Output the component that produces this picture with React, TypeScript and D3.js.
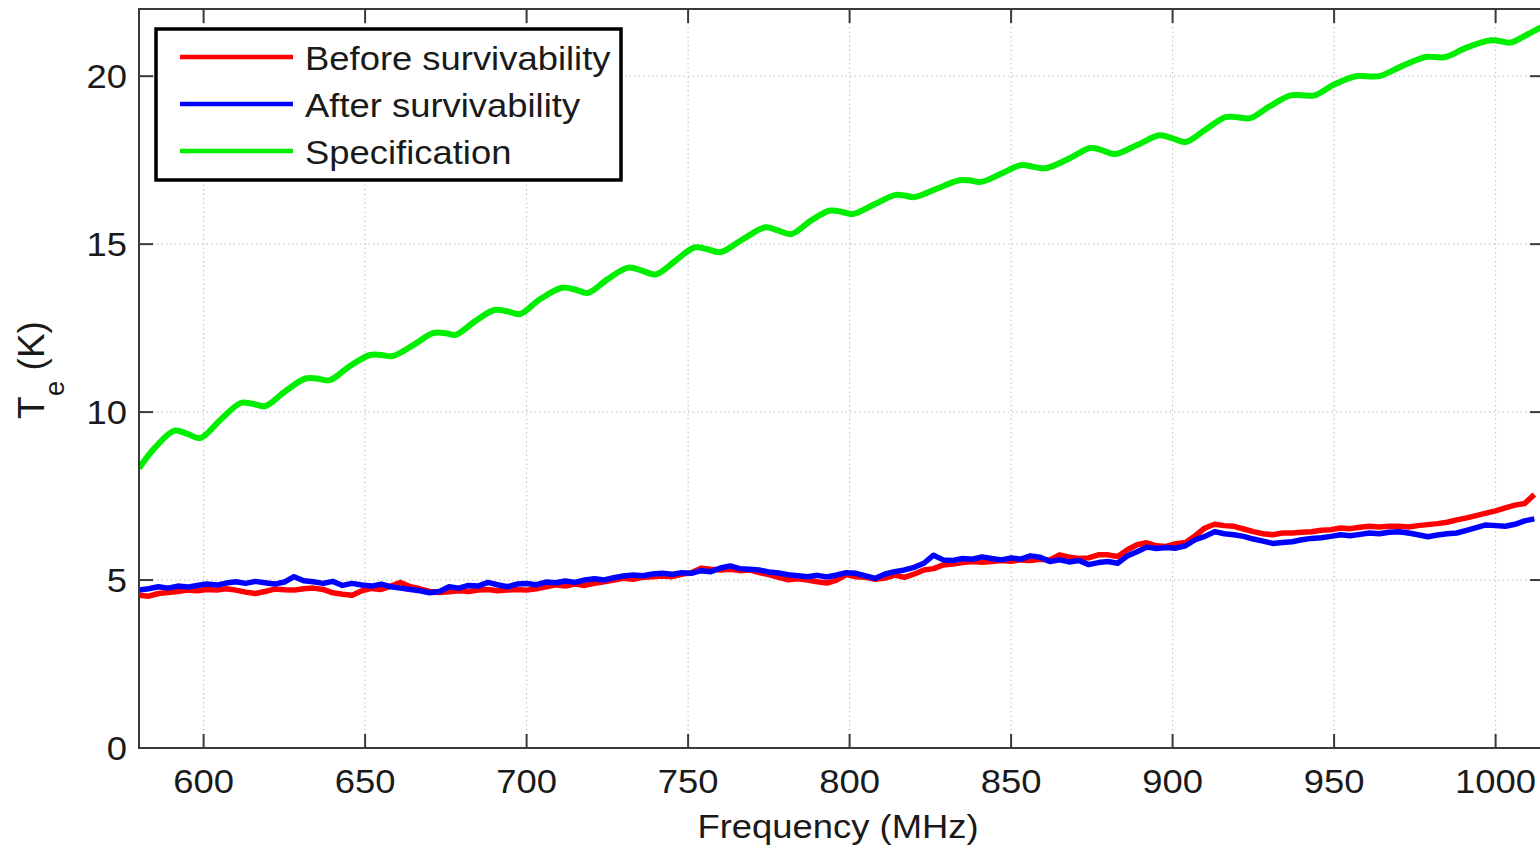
import React, { useEffect, useRef } from 'react';
import * as d3 from 'd3';

// measured curves, 3 MHz grid from 580 MHz
const measFreq = d3.range(580, 1013, 3);

const beforeTe = [
  4.55, 4.52, 4.60, 4.63, 4.66, 4.70, 4.68, 4.72, 4.70, 4.74,
  4.70, 4.64, 4.60, 4.66, 4.73, 4.71, 4.70, 4.74, 4.76, 4.72,
  4.62, 4.58, 4.55, 4.68, 4.75, 4.72, 4.82, 4.93, 4.80, 4.74,
  4.66, 4.63, 4.65, 4.68, 4.66, 4.70, 4.72, 4.68, 4.70, 4.72,
  4.70, 4.74, 4.80, 4.86, 4.82, 4.88, 4.84, 4.90, 4.95, 5.00,
  5.05, 5.02, 5.08, 5.10, 5.12, 5.10, 5.17, 5.22, 5.35, 5.32,
  5.30, 5.32, 5.28, 5.30, 5.22, 5.16, 5.08, 5.01, 5.04, 5.00,
  4.95, 4.91, 5.00, 5.16, 5.10, 5.08, 5.02, 5.06, 5.15, 5.08,
  5.18, 5.30, 5.34, 5.45, 5.48, 5.52, 5.55, 5.53, 5.55, 5.58,
  5.56, 5.60, 5.58, 5.62, 5.60, 5.75, 5.68, 5.64, 5.66, 5.75,
  5.75, 5.70, 5.90, 6.05, 6.11, 6.02, 6.00, 6.08, 6.12, 6.32,
  6.55, 6.66, 6.62, 6.60, 6.52, 6.44, 6.38, 6.35, 6.40, 6.40,
  6.42, 6.44, 6.48, 6.50, 6.55, 6.53, 6.57, 6.60, 6.58, 6.60,
  6.60, 6.58, 6.62, 6.65, 6.68, 6.72, 6.79, 6.85, 6.92, 6.99,
  7.06, 7.15, 7.23, 7.28, 7.55,
];

const afterTe = [
  4.70, 4.74, 4.80, 4.76, 4.82, 4.79, 4.84, 4.88, 4.85, 4.91,
  4.95, 4.90, 4.96, 4.92, 4.88, 4.94, 5.10, 4.98, 4.95, 4.90,
  4.96, 4.84, 4.90, 4.85, 4.82, 4.88, 4.80, 4.76, 4.72, 4.68,
  4.62, 4.66, 4.80, 4.76, 4.84, 4.82, 4.93, 4.86, 4.80, 4.88,
  4.90, 4.86, 4.94, 4.92, 4.97, 4.93, 5.00, 5.04, 5.00, 5.07,
  5.12, 5.15, 5.13, 5.18, 5.20, 5.17, 5.22, 5.20, 5.28, 5.25,
  5.36, 5.42, 5.34, 5.32, 5.30, 5.24, 5.21, 5.16, 5.13, 5.10,
  5.14, 5.09, 5.15, 5.22, 5.20, 5.12, 5.05, 5.18, 5.25, 5.30,
  5.38, 5.50, 5.74, 5.60, 5.58, 5.64, 5.62, 5.69, 5.64, 5.60,
  5.66, 5.62, 5.72, 5.68, 5.55, 5.60, 5.54, 5.58, 5.46, 5.52,
  5.55, 5.50, 5.72, 5.84, 5.98, 5.94, 5.97, 5.95, 6.02, 6.20,
  6.30, 6.44, 6.38, 6.35, 6.30, 6.22, 6.16, 6.09, 6.12, 6.14,
  6.20, 6.24, 6.26, 6.30, 6.35, 6.32, 6.36, 6.40, 6.38, 6.42,
  6.44, 6.40, 6.35, 6.29, 6.34, 6.38, 6.40, 6.48, 6.56, 6.64,
  6.62, 6.60, 6.66, 6.76, 6.82,
];

// specification curve (ripple peaks / troughs)
const specFreq = [
  580, 585, 591, 595, 599, 605, 611.5, 615, 619, 625, 631.5, 635, 639, 645, 651.5, 655,
  658.5, 665, 671, 675, 678, 684, 690, 694, 698, 704, 711, 715, 719, 725, 731.5, 736,
  740, 746, 752, 756, 760, 767, 774, 778, 782, 788, 794, 798, 801, 808, 814, 817,
  820, 827, 834, 837, 840.5, 847, 853, 857, 860.7, 868, 874.6, 878, 882, 889, 896, 900,
  904, 910, 916.4, 920, 924, 930, 936.5, 940, 944, 950, 956.7, 960, 964, 971, 978.3, 981,
  984.5, 991, 998.5, 1001, 1004.6, 1010, 1015,
];
const specTe = [
  8.33, 8.95, 9.45, 9.35, 9.23, 9.75, 10.27, 10.25, 10.18, 10.6, 11.0, 11.0, 10.95, 11.35, 11.7, 11.7,
  11.67, 12.0, 12.35, 12.35, 12.3, 12.7, 13.04, 13.0, 12.92, 13.35, 13.7, 13.65, 13.55, 13.95, 14.3, 14.2,
  14.1, 14.5, 14.9, 14.85, 14.76, 15.15, 15.5, 15.4, 15.3, 15.7, 16.0, 15.95, 15.9, 16.2, 16.46, 16.45,
  16.4, 16.65, 16.9, 16.9, 16.85, 17.1, 17.35, 17.3, 17.26, 17.55, 17.86, 17.8, 17.68, 17.95, 18.24, 18.15,
  18.04, 18.4, 18.78, 18.78, 18.75, 19.1, 19.43, 19.43, 19.43, 19.75, 20.0, 20.0, 20.0, 20.3, 20.57, 20.57,
  20.57, 20.85, 21.07, 21.05, 21.0, 21.25, 21.5,
];

const xTicks = [600, 650, 700, 750, 800, 850, 900, 950, 1000];
const yTicks = [0, 5, 10, 15, 20];
const seriesNames = ['Before survivability', 'After survivability', 'Specification'];
const seriesColors = ['#ff0000', '#0000ff', '#00ee00'];

const W = 1540;
const H = 849;
const FONT = '"Liberation Sans", Arial, sans-serif';
const STRETCH = 1.12;

export default function App() {
  const svgRef = useRef<SVGSVGElement | null>(null);

  useEffect(() => {
    const svg = d3.select(svgRef.current);
    svg.selectAll('*').remove();

    const left = 139, top = 9, bottom = 748;
    const x = d3.scaleLinear().domain([580, 1015]).range([left, left + 435 * 3.23]);
    const y = d3.scaleLinear().domain([0, 22]).range([bottom, top]);
    const right = x(1015);

    svg.append('rect').attr('width', W).attr('height', H).attr('fill', '#fff');

    svg.append('clipPath').attr('id', 'plot-clip')
      .append('rect').attr('x', left).attr('y', top)
      .attr('width', right - left).attr('height', bottom - top);

    // grid
    const grid = svg.append('g').attr('stroke', '#c8c8c8').attr('stroke-width', 1.2)
      .attr('stroke-dasharray', '1.5,3');
    grid.selectAll('.gx').data(xTicks).join('line')
      .attr('x1', d => x(d)).attr('x2', d => x(d)).attr('y1', top).attr('y2', bottom);
    grid.selectAll('.gy').data(yTicks.filter(d => d > 0)).join('line')
      .attr('x1', left).attr('x2', right).attr('y1', d => y(d)).attr('y2', d => y(d));

    // data lines
    const plot = svg.append('g').attr('clip-path', 'url(#plot-clip)');
    const measLine = d3.line<number>().x((d, i) => x(measFreq[i])).y(d => y(d));
    plot.append('path').datum(beforeTe).attr('d', measLine)
      .attr('fill', 'none').attr('stroke', seriesColors[0]).attr('stroke-width', 5.5)
      .attr('stroke-linejoin', 'round');
    plot.append('path').datum(afterTe).attr('d', measLine)
      .attr('fill', 'none').attr('stroke', seriesColors[1]).attr('stroke-width', 5.5)
      .attr('stroke-linejoin', 'round');
    const specLine = d3.line<number>().x((d, i) => x(specFreq[i])).y(d => y(d))
      .curve(d3.curveCatmullRom.alpha(0.5));
    plot.append('path').datum(specTe).attr('d', specLine)
      .attr('fill', 'none').attr('stroke', seriesColors[2]).attr('stroke-width', 6);

    // axes box and ticks
    const ax = svg.append('g').attr('stroke', '#3a3a3a').attr('stroke-width', 2).attr('fill', 'none');
    ax.append('rect').attr('x', left).attr('y', top).attr('width', right - left).attr('height', bottom - top);
    const tl = 14;
    ax.selectAll('.tb').data(xTicks).join('line')
      .attr('x1', d => x(d)).attr('x2', d => x(d)).attr('y1', bottom).attr('y2', bottom - tl);
    ax.selectAll('.tt').data(xTicks).join('line')
      .attr('x1', d => x(d)).attr('x2', d => x(d)).attr('y1', top).attr('y2', top + tl);
    ax.selectAll('.tl').data(yTicks).join('line')
      .attr('x1', left).attr('x2', left + tl).attr('y1', d => y(d)).attr('y2', d => y(d));
    ax.selectAll('.tr').data(yTicks).join('line')
      .attr('x1', right).attr('x2', right - tl).attr('y1', d => y(d)).attr('y2', d => y(d));

    const txt = svg.append('g').attr('font-family', FONT).attr('font-size', 32.5).attr('fill', '#1a1a1a');
    txt.selectAll('.xl').data(xTicks).join('text').attr('class', 'stretch')
      .attr('x', d => x(d)).attr('y', 793).attr('text-anchor', 'middle').text(d => d);
    txt.selectAll('.yl').data(yTicks).join('text').attr('class', 'stretch')
      .attr('x', 127).attr('y', d => y(d) + 12).attr('text-anchor', 'end').text(d => d);
    txt.append('text').attr('class', 'stretch')
      .attr('x', 838).attr('y', 838).attr('text-anchor', 'middle').text('Frequency (MHz)');

    const yl = txt.append('text').attr('transform', 'translate(44,370) rotate(-90)')
      .attr('text-anchor', 'middle').attr('font-size', 37);
    yl.append('tspan').text('T');
    yl.append('tspan').attr('font-size', 28).attr('dy', 20).text('e');
    yl.append('tspan').attr('dy', -20).text(' (K)');

    // legend
    const lg = svg.append('g');
    lg.append('rect').attr('x', 156).attr('y', 29).attr('width', 465).attr('height', 151)
      .attr('fill', '#fff').attr('stroke', '#000').attr('stroke-width', 3.5);
    const rows = [57, 104, 151];
    seriesNames.forEach((name, i) => {
      lg.append('line').attr('x1', 180).attr('x2', 293).attr('y1', rows[i]).attr('y2', rows[i])
        .attr('stroke', seriesColors[i]).attr('stroke-width', 4.5);
      lg.append('text').attr('class', 'stretch').attr('x', 305).attr('y', rows[i] + 13)
        .attr('font-family', FONT).attr('font-size', 32.5).attr('fill', '#1a1a1a').text(name);
    });

    // widen glyphs to match the source's horizontal aspect
    svg.selectAll<SVGTextElement, unknown>('text.stretch').each(function () {
      const len = this.getComputedTextLength();
      d3.select(this).attr('textLength', len * STRETCH).attr('lengthAdjust', 'spacingAndGlyphs');
    });
  }, []);

  return (
    <svg ref={svgRef} width={W} height={H} viewBox={`0 0 ${W} ${H}`}
      style={{ position: 'absolute', left: 0, top: 0, display: 'block' }} />
  );
}
